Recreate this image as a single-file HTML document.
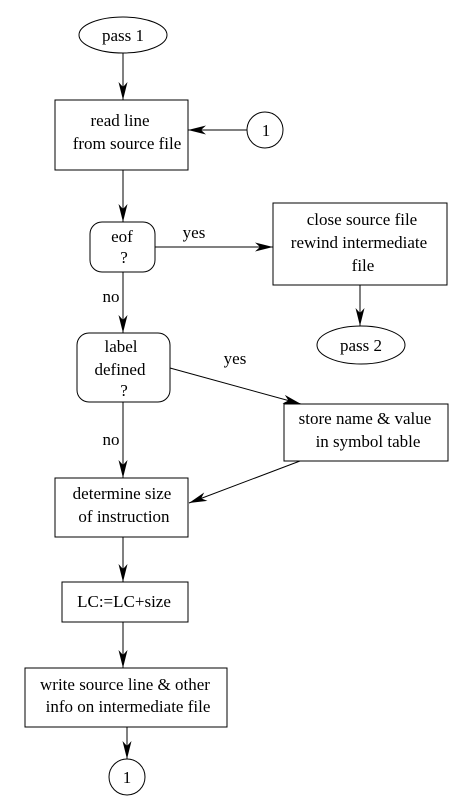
<!DOCTYPE html>
<html><head><meta charset="utf-8"><style>
html,body{margin:0;padding:0;background:#fff}
svg{display:block}
text{font-family:"Liberation Serif",serif;font-size:17px;fill:#000;text-anchor:middle}
</style></head><body>
<svg width="461" height="802" viewBox="0 0 461 802">
<defs>
<marker id="ah" markerWidth="19" markerHeight="9" refX="18" refY="4.5" orient="auto" markerUnits="userSpaceOnUse">
<path d="M0,0 L18,4.5 L0,9 L5,4.5 Z" fill="#000"/>
</marker>
</defs>
<g fill="none" stroke="#000" stroke-width="1">
<ellipse cx="123" cy="35" rx="44" ry="18"/>
<rect x="55" y="100" width="133" height="70"/>
<circle cx="265" cy="130" r="18"/>
<rect x="90" y="222" width="65" height="50" rx="12"/>
<rect x="273" y="203" width="174" height="82"/>
<ellipse cx="361" cy="345" rx="44" ry="19"/>
<rect x="77" y="333" width="93" height="69" rx="12"/>
<rect x="284" y="404" width="164" height="57"/>
<rect x="55" y="478" width="133" height="59"/>
<rect x="62" y="582" width="126" height="40"/>
<rect x="25" y="668" width="202" height="59"/>
<circle cx="127" cy="777" r="18"/>

<line x1="123" y1="53" x2="123" y2="100" marker-end="url(#ah)"/>
<line x1="247" y1="130" x2="188" y2="130" marker-end="url(#ah)"/>
<line x1="123" y1="170" x2="123" y2="222" marker-end="url(#ah)"/>
<line x1="155" y1="247" x2="273" y2="247" marker-end="url(#ah)"/>
<line x1="360" y1="285" x2="360" y2="326" marker-end="url(#ah)"/>
<line x1="123" y1="272" x2="123" y2="333" marker-end="url(#ah)"/>
<line x1="170" y1="368" x2="301" y2="404" marker-end="url(#ah)"/>
<line x1="300" y1="461" x2="189" y2="503" marker-end="url(#ah)"/>
<line x1="123" y1="402" x2="123" y2="478" marker-end="url(#ah)"/>
<line x1="123" y1="537" x2="123" y2="582" marker-end="url(#ah)"/>
<line x1="123" y1="622" x2="123" y2="668" marker-end="url(#ah)"/>
<line x1="127" y1="727" x2="127" y2="759" marker-end="url(#ah)"/>
</g>
<text x="123" y="41">pass 1</text>
<text x="120" y="126">read line</text>
<text x="127" y="149">from source file</text>
<text x="266" y="136">1</text>
<text x="122" y="242">eof</text>
<text x="124" y="263">?</text>
<text x="194" y="238">yes</text>
<text x="362" y="225">close source file</text>
<text x="359" y="248">rewind intermediate</text>
<text x="363" y="271">file</text>
<text x="361" y="351">pass 2</text>
<text x="111" y="302">no</text>
<text x="121" y="352">label</text>
<text x="120" y="375">defined</text>
<text x="124" y="396">?</text>
<text x="235" y="364">yes</text>
<text x="365" y="424">store name &amp; value</text>
<text x="368" y="447">in symbol table</text>
<text x="111" y="445">no</text>
<text x="122" y="499">determine size</text>
<text x="124" y="522">of instruction</text>
<text x="124" y="607">LC:=LC+size</text>
<text x="125" y="690">write source line &amp; other</text>
<text x="128" y="712">info on intermediate file</text>
<text x="127" y="783">1</text>
</svg>
</body></html>
